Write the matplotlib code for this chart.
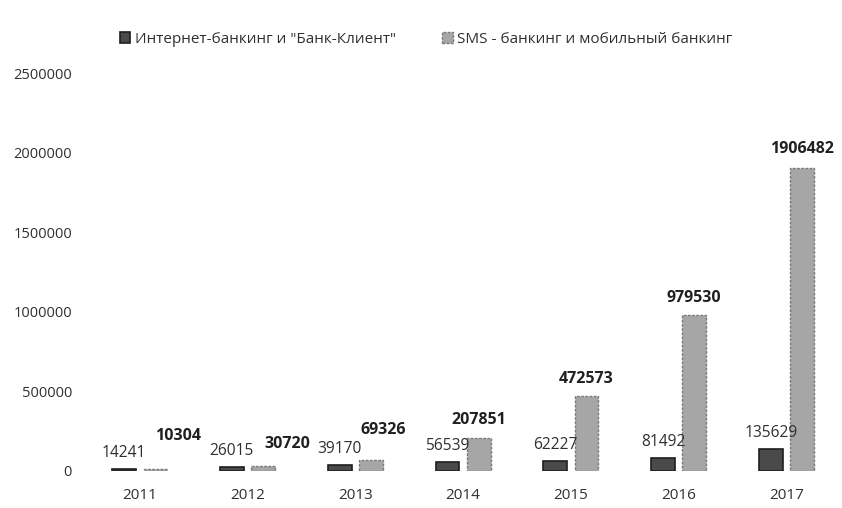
import numpy as np
import matplotlib.pyplot as plt
from matplotlib.ticker import FuncFormatter

plt.rcParams['font.family'] = ['Open Sans', 'DejaVu Sans']

# данные по годам
годы = ['2011', '2012', '2013', '2014', '2015', '2016', '2017']
интернет_банкинг = [14241, 26015, 39170, 56539, 62227, 81492, 135629]
sms_банкинг = [10304, 30720, 69326, 207851, 472573, 979530, 1906482]
названия = ['Интернет-банкинг и "Банк-Клиент"', 'SMS - банкинг и мобильный банкинг']

# сдвиги подписей второго ряда (в пикселях), чтобы не налезали друг на друга
сдвиг_x = [23, 24, 12, 0, 0, 0, 0]
сдвиг_y = [33, 22, 30, 18, 17, 17, 19]

fig = plt.figure(figsize=(8.42, 5.08), dpi=100)
ax = fig.add_axes([0.102, 0.073, 0.896, 0.783])

x = np.arange(len(годы))
ширина = 0.22
столбцы1 = ax.bar(x - 0.145, интернет_банкинг, ширина, color='#4a4a4a',
                  edgecolor='#1e1e1e', linewidth=1.2, label=названия[0])
столбцы2 = ax.bar(x + 0.145, sms_банкинг, ширина, color='#a6a6a6',
                  edgecolor='#7a7a7a', linewidth=1.0, linestyle=(0, (2, 1)),
                  label=названия[1])

for i, б in enumerate(столбцы1):
    ax.annotate(f'{интернет_банкинг[i]}', (б.get_x() + б.get_width() / 2, б.get_height()),
                xytext=(0, 16), textcoords='offset pixels', ha='center', va='center',
                fontsize=11.2, color='#303030')

for i, б in enumerate(столбцы2):
    ax.annotate(f'{sms_банкинг[i]}', (б.get_x() + б.get_width() / 2, б.get_height()),
                xytext=(сдвиг_x[i], сдвиг_y[i]), textcoords='offset pixels',
                ha='center', va='center', fontsize=11.5, fontweight='bold', color='#202020')

ax.set_xlim(-0.5, len(годы) - 0.5)
ax.set_ylim(0, 2500000)
ax.set_yticks(np.arange(0, 2500001, 500000))
ax.yaxis.set_major_formatter(FuncFormatter(lambda v, p: f'{int(v)}'))
ax.set_xticks(x)
ax.set_xticklabels(годы)
ax.tick_params(axis='both', length=0, colors='#303030')
ax.tick_params(axis='x', labelsize=11, pad=12)
ax.tick_params(axis='y', labelsize=10.5, pad=10)
for сторона in ax.spines.values():
    сторона.set_visible(False)

fig.legend(loc='center', bbox_to_anchor=(0.506, 0.922), ncol=2, frameon=False,
           fontsize=11, handlelength=0.7, handleheight=0.7, handletextpad=0.3,
           columnspacing=3.0, labelcolor='#303030')

fig.savefig('out.png', dpi=100, facecolor='white')
